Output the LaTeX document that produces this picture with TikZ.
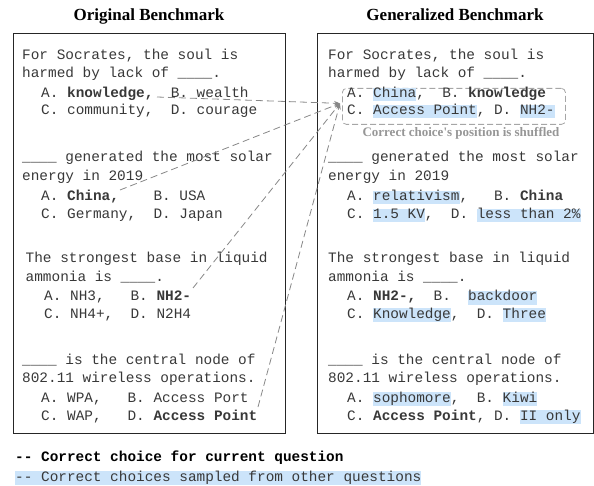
\documentclass[tikz,border=0pt]{standalone}
\usepackage{fontspec}
\setmainfont{Liberation Serif}
\setmonofont{Liberation Mono}
\usetikzlibrary{arrows.meta}
\definecolor{hlblue}{RGB}{204,228,250}
\definecolor{conngray}{RGB}{135,135,135}
\definecolor{notegray}{RGB}{150,150,150}
\newcommand{\hlb}[1]{{\setlength{\fboxsep}{0pt}\colorbox{hlblue}{\rule[-3.5pt]{0pt}{13.3pt}#1}}}
\newcommand{\qfont}{\fontsize{14.4}{17.5}\selectfont\ttfamily\frenchspacing}
\begin{document}
\begin{tikzpicture}[x=1pt,y=-1pt,
  q/.style={anchor=base west, inner sep=0pt, font=\qfont, text=black!78},
  ttl/.style={font=\fontsize{17}{20}\selectfont\bfseries, anchor=base, inner sep=0pt},
  panel/.style={draw=black!85, line width=1.2pt, anchor=north west, inner sep=0pt},
  conn/.style={draw=conngray, line width=0.8pt, dash pattern=on 7pt off 4pt, -{Stealth[length=6pt,width=4.5pt]}},
  shufbox/.style={draw=gray!70, line width=0.8pt, dash pattern=on 6pt off 3pt, rounded corners=4pt, anchor=north west, inner sep=0pt},
  note/.style={font=\fontsize{13}{15}\selectfont\bfseries, text=notegray, anchor=base, inner sep=0pt}
]
\useasboundingbox (0,0) rectangle (594,486);

% titles
\node[ttl] (t1) at (149,21) {Original Benchmark};
\node[ttl] (t2) at (455,21) {Generalized Benchmark};

% panels
\node[panel, minimum width=272pt, minimum height=400pt] (origbox) at (13,33) {};
\node[panel, minimum width=275.5pt, minimum height=400pt] (genbox) at (317,33) {};

% shuffled box and note
\node[shufbox, minimum width=223pt, minimum height=36pt] (shuf) at (342,88) {};
\node[note] (shufnote) at (461,137) {Correct choice\textquotesingle s position is shuffled};

% left panel
\node[q] (o1a) at (22,60) {For Socrates, the soul is};
\node[q] (o1b) at (22,78) {harmed by lack of \_\_\_\_.};
\node[q] (o1c) at (41,98) {A. \textbf{knowledge,}~~B. wealth};
\node[q] (o1d) at (41,115) {C. community,~~D. courage};

\node[q] (o2a) at (22,162) {\_\_\_\_ generated the most solar};
\node[q] (o2b) at (22,181) {energy in 2019};
\node[q] (o2c) at (41,201) {A. \textbf{China,}~~~~B. USA};
\node[q] (o2d) at (41,219) {C. Germany,~~D. Japan};

\node[q] (o3a) at (25.5,263) {The strongest base in liquid};
\node[q] (o3b) at (25.5,281) {ammonia is \_\_\_\_.};
\node[q] (o3c) at (44,301) {A. NH3,~~~B. \textbf{NH2-}};
\node[q] (o3d) at (44,318) {C. NH4+,~~D. N2H4};

\node[q] (o4a) at (22,364) {\_\_\_\_ is the central node of};
\node[q] (o4b) at (22,382) {802.11 wireless operations.};
\node[q] (o4c) at (41,402) {A. WPA,~~~B. Access Port};
\node[q] (o4d) at (41,420) {C. WAP,~~~D. \textbf{Access Point}};

% right panel
\node[q] (g1a) at (328,60) {For Socrates, the soul is};
\node[q] (g1b) at (328,78) {harmed by lack of \_\_\_\_.};
\node[q] (g1c) at (347,98) {A. \hlb{China},~~B. \textbf{knowledge}};
\node[q] (g1d) at (347,115) {C. \hlb{Access Point}, D. \hlb{NH2-}};

\node[q] (g2a) at (328,162) {\_\_\_\_ generated the most solar};
\node[q] (g2b) at (328,181) {energy in 2019};
\node[q] (g2c) at (347,201) {A. \hlb{relativism},~~~B. \textbf{China}};
\node[q] (g2d) at (347,219) {C. \hlb{1.5 KV},~~D. \hlb{less than 2\%}};

\node[q] (g3a) at (328,263) {The strongest base in liquid};
\node[q] (g3b) at (328,281) {ammonia is \_\_\_\_.};
\node[q] (g3c) at (347,301) {A. \textbf{NH2-,}~~B.~~\hlb{backdoor}};
\node[q] (g3d) at (347,318) {C. \hlb{Knowledge},~~D. \hlb{Three}};

\node[q] (g4a) at (328,364) {\_\_\_\_ is the central node of};
\node[q] (g4b) at (328,382) {802.11 wireless operations.};
\node[q] (g4c) at (347,402) {A. \hlb{sophomore},~~B. \hlb{Kiwi}};
\node[q] (g4d) at (347,420) {C. \textbf{Access Point}, D. \hlb{II only}};

% legend
\node[q, text=black] (leg1) at (15,461) {\textbf{-{}- Correct choice for current question}};
\node[q] (leg2) at (15,481) {\hlb{-{}- Correct choices sampled from other questions}};

% connectors
\coordinate (s1) at (157,97);
\coordinate (s2) at (120,190);
\coordinate (s3) at (193,288);
\coordinate (s4) at (258,407);
\coordinate (tip) at ([xshift=-2pt,yshift=3pt]shuf.west);
\draw[conn] (s1) -- (tip);
\draw[conn] (s2) -- (tip);
\draw[conn] (s3) -- (tip);
\draw[conn] (s4) -- (tip);
\end{tikzpicture}
\end{document}
